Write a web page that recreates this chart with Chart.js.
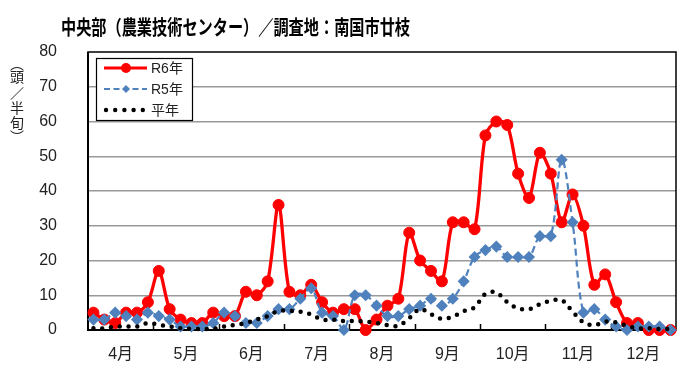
<!DOCTYPE html>
<html><head><meta charset="utf-8">
<script src="https://cdn.jsdelivr.net/npm/chart.js@4/dist/chart.umd.min.js"></script>
<style>html,body{margin:0;padding:0;background:#fff}#wrap{width:700px;height:382px}</style>
</head><body><div id="wrap"><canvas id="c" width="700" height="382"></canvas></div>
<script>
// ---- data (values per 半旬, 6 per month) ----
const months = ['4月','5月','6月','7月','8月','9月','10月','11月','12月'];
const perMonth = 6;
const seriesNames = ['R6年','R5年','平年'];
const r6 = [5,3,2,5,5,8, 17,6,3,2,2,5, 4,4,11,10,14,36, 11,10,13,8,5,6, 6,0,3,7,9,28, 20,17,14,31,31,29, 56,60,59,45,38,51, 45,31,39,30,13,16, 8,2,2,0,0,0];
const r5 = [3,3,5,4,3,5, 4,3,1,1,1,2, 5,4,2,2,4,6, 6,9,12,5,4,0, 10,10,7,4,4,6, 7,9,7,9,14,21, 23,24,21,21,21,27, 27,49,31,5,6,3, 1,0,1,1,1,0];
const avg = [0.5,0.5,1,1,1,2, 1.5,1,0.5,0.3,0.3,0.3, 1,1.5,2,3,4,5.5, 5.5,5.3,4.5,3,3,2.6, 2.6,2.4,2,1.4,1.2,3.4, 6,4.5,3.2,3.8,5.4,6.5, 10.4,10.8,8,6.2,6,7.4, 8.4,8.6,5.3,2.2,1.4,2.4, 2.2,1.2,0.5,0.5,0.3,0.3];
const yMin = 0, yMax = 80, yStep = 10;
const titleText = '中央部（農業技術センター）／調査地：南国市廿枝';
const yTitleChars = ['︵','頭','／','半','旬','︶'];

const RED = '#FF0000', BLUE = '#4F81BD';
const toXY = arr => arr.map((v,i)=>({x:i+0.5,y:v}));
const JP = '"Noto Sans CJK JP"';
const NUMF = '"Liberation Sans", "Noto Sans CJK JP", sans-serif';

const deco = {
  id:'deco',
  beforeDraw(chart){
    const c=chart.ctx; c.save(); c.fillStyle='#fff'; c.fillRect(0,0,chart.width,chart.height); c.restore();
  },
  beforeDatasetsDraw(chart){
    const {ctx:c, chartArea:a, scales:{x}} = chart;
    c.save();
    c.strokeStyle='#000'; c.lineWidth=1.5;
    c.strokeRect(a.left, a.top, a.right-a.left, a.bottom-a.top);
    c.lineWidth=2;
    c.beginPath(); c.moveTo(a.left,a.top); c.lineTo(a.left,a.bottom); c.lineTo(a.right,a.bottom); c.stroke();
    c.lineWidth=1.5;
    for(let k=1;k<months.length;k++){
      const px = Math.round(x.getPixelForValue(k*perMonth))+0.5;
      c.beginPath(); c.moveTo(px,a.bottom); c.lineTo(px,a.bottom-6); c.stroke();
    }
    c.restore();
  },
  afterDraw(chart){
    const c = chart.ctx;
    c.save();
    // title
    c.fillStyle='#000'; c.font='bold 20px '+JP; c.textBaseline='middle'; c.textAlign='left';
    c.fillText(titleText, 61, 27, 349);
    // vertical y title
    c.font='14px '+JP; c.textAlign='center'; c.fillStyle='#222';
    const ys=[64,77,93,108,123,137];
    yTitleChars.forEach((ch,i)=>c.fillText(ch,17,ys[i]));
    // legend
    const lx=96, ly=58, lw=96, lh=62;
    c.fillStyle='#fff'; c.fillRect(lx,ly,lw,lh);
    c.strokeStyle='#000'; c.lineWidth=1.2; c.strokeRect(lx+0.5,ly+0.5,lw,lh);
    const rows=[68,89,110];
    // R6
    c.strokeStyle=RED; c.lineWidth=3.2; c.setLineDash([]);
    c.beginPath(); c.moveTo(104,rows[0]); c.lineTo(147,rows[0]); c.stroke();
    c.fillStyle=RED; c.beginPath(); c.arc(126,rows[0],5,0,Math.PI*2); c.fill();
    // R5
    c.strokeStyle=BLUE; c.lineWidth=2.2; c.setLineDash([6,3.5]);
    c.beginPath(); c.moveTo(104,rows[1]); c.lineTo(147,rows[1]); c.stroke();
    c.setLineDash([]);
    c.fillStyle=BLUE; c.beginPath(); c.moveTo(126,rows[1]-4); c.lineTo(130,rows[1]); c.lineTo(126,rows[1]+4); c.lineTo(122,rows[1]); c.closePath(); c.fill();
    // avg
    c.fillStyle='#000';
    for(let k=0;k<5;k++){ c.beginPath(); c.arc(106+k*9.2,rows[2],2.2,0,Math.PI*2); c.fill(); }
    c.font='14px '+NUMF; c.textAlign='left'; c.fillStyle='#222';
    seriesNames.forEach((n,i)=>c.fillText(n,151,rows[i]+1));
    c.restore();
  }
};

new Chart(document.getElementById('c'), {
  type:'line',
  data:{ datasets:[
    {label:seriesNames[0], data:toXY(r6), borderColor:RED, backgroundColor:RED, borderWidth:3.3,
     pointRadius:5.5, pointHoverRadius:5.5, pointBackgroundColor:RED, pointBorderColor:RED, pointBorderWidth:1,
     tension:0.3, order:3, clip:false},
    {label:seriesNames[1], data:toXY(r5), borderColor:BLUE, backgroundColor:BLUE, borderWidth:2.2, borderDash:[7,4],
     pointStyle:'rectRot', pointRadius:4.5, pointHoverRadius:4.5, pointBackgroundColor:BLUE, pointBorderColor:BLUE,
     tension:0.35, order:2, clip:false},
    {label:seriesNames[2], data:toXY(avg), borderColor:'#000', borderWidth:4.5, borderDash:[0,8.8], borderCapStyle:'round',
     pointRadius:0, pointHoverRadius:0, tension:0.35, order:1, clip:false}
  ]},
  options:{
    responsive:false, animation:false, devicePixelRatio:1,
    layout:{padding:{left:0,right:24,top:52,bottom:0}},
    plugins:{legend:{display:false}, title:{display:false}, tooltip:{enabled:false}},
    scales:{
      x:{type:'linear', min:0, max:months.length*perMonth,
         afterBuildTicks(s){ s.ticks = months.map((m,k)=>({value:k*perMonth+perMonth/2})); },
         afterFit(s){ s.height = 52; },
         grid:{display:false}, border:{display:false},
         ticks:{autoSkip:false, maxRotation:0, padding:7, color:'#222', font:{family:NUMF, size:16},
                callback:(v,i)=>months[i]}},
      y:{min:yMin, max:yMax,
         afterFit(s){ s.width = 88; },
         grid:{drawTicks:false, lineWidth:1.5, color:(ctx)=> (ctx.tick.value===yMin||ctx.tick.value===yMax)?'rgba(0,0,0,0)':'#999'},
         border:{display:false},
         ticks:{stepSize:yStep, padding:31, color:'#222', font:{family:NUMF, size:16}}}
    }
  },
  plugins:[deco]
});
</script></body></html>
